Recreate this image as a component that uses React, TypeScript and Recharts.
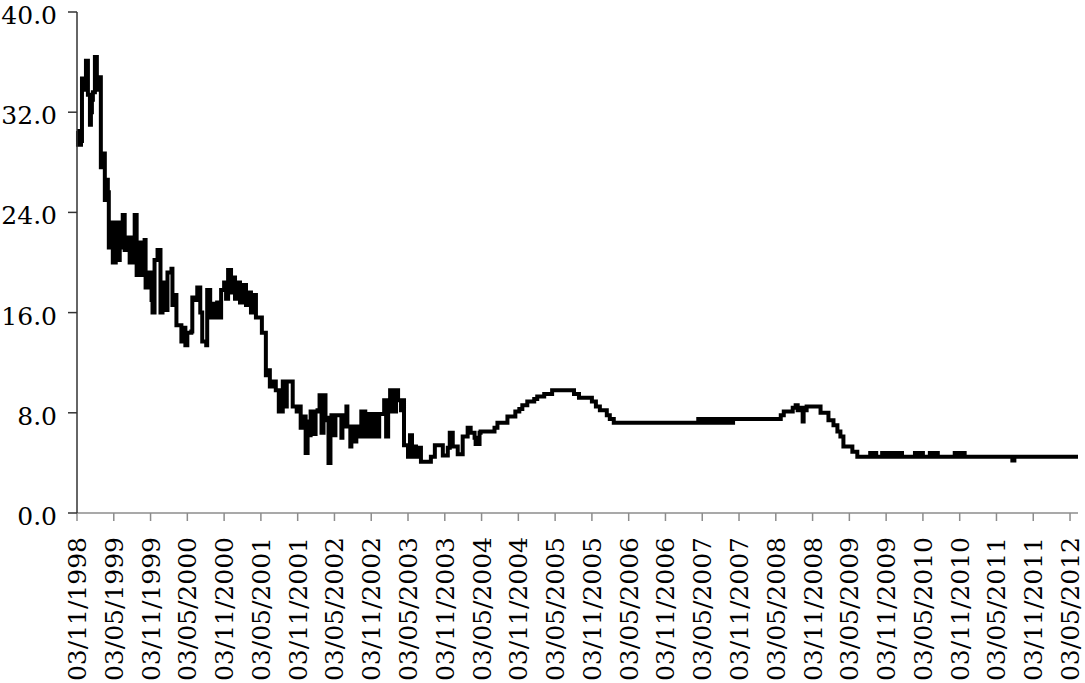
import { LineChart, Line, XAxis, YAxis } from "recharts";

// Rate changes: [months since 03/11/1998, level]
const rateSteps: [number, number][] = [
  [0, 30.5], [0.16, 29.4], [0.65, 29.7], [0.81, 34.7], [1.14, 33.8], [1.46, 36.1],
  [1.78, 33.4], [2.11, 31.0], [2.27, 32.0], [2.43, 33.0], [2.59, 33.6], [2.92, 36.4],
  [3.24, 33.8], [3.57, 34.8], [3.89, 27.6], [4.22, 28.7], [4.54, 25.0], [4.7, 26.6],
  [5.03, 25.6], [5.19, 21.2], [5.51, 23.2], [5.84, 20.0], [6.32, 23.2], [6.65, 20.2],
  [6.97, 23.2], [7.3, 21.2], [7.46, 23.8], [7.78, 21.0], [8.11, 22.0], [8.59, 20.0],
  [9.08, 22.0], [9.41, 23.8], [9.73, 19.0], [10.22, 21.6], [10.7, 19.0], [11.03, 21.8],
  [11.19, 18.0], [11.51, 19.2], [12.16, 17.0], [12.32, 16.0], [12.65, 20.2], [13.14, 21.0],
  [13.62, 16.0], [13.95, 18.4], [14.43, 16.2], [14.76, 19.2], [15.41, 19.5], [15.57, 16.6],
  [16.05, 17.4], [16.22, 15.0], [17.03, 13.7], [17.35, 14.8], [17.68, 13.4], [18.0, 14.4],
  [18.65, 14.5], [18.81, 17.2], [19.3, 17.0], [19.62, 18.0], [20.11, 16.0], [20.43, 13.7],
  [21.08, 13.4], [21.24, 17.8], [21.73, 15.6], [22.05, 16.7], [22.54, 15.6], [22.86, 16.8],
  [23.35, 15.6], [23.51, 17.8], [24.0, 18.4], [24.32, 17.1], [24.65, 19.4], [25.13, 17.6],
  [25.46, 18.8], [25.78, 17.1], [26.11, 18.4], [26.59, 16.8], [26.92, 18.2], [27.57, 16.6],
  [27.89, 17.6], [28.38, 16.0], [28.7, 17.4], [29.19, 15.6], [30.16, 14.4], [30.81, 11.0],
  [31.13, 11.4], [31.46, 10.1], [32.11, 10.5], [32.43, 9.8], [32.92, 8.1], [33.57, 10.5],
  [33.89, 8.5], [34.22, 10.5], [35.19, 8.5], [35.84, 8.1], [36.32, 8.5], [36.49, 6.8],
  [36.97, 7.7], [37.3, 4.8], [37.62, 7.3], [37.95, 6.2], [38.11, 8.1], [38.43, 6.3],
  [38.92, 8.1], [39.24, 8.2], [39.57, 9.4], [39.89, 6.4], [40.22, 9.4], [40.54, 7.6],
  [40.86, 7.4], [41.03, 4.0], [41.35, 6.6], [41.51, 7.8], [42.0, 6.2], [42.16, 7.8],
  [43.13, 6.0], [43.3, 7.8], [43.78, 6.9], [43.95, 8.5], [44.11, 6.9], [44.59, 5.3],
  [44.76, 6.9], [45.24, 5.7], [45.57, 6.9], [46.22, 6.1], [46.38, 8.1], [47.03, 6.1],
  [47.35, 7.9], [47.68, 6.1], [48.0, 7.9], [48.32, 6.1], [48.65, 7.9], [48.97, 6.1],
  [49.3, 7.9], [50.11, 9.0], [50.43, 6.1], [50.76, 9.0], [51.08, 9.8], [51.24, 8.1],
  [51.57, 9.8], [51.89, 8.1], [52.05, 9.8], [52.38, 9.0], [52.86, 8.2], [53.03, 9.0],
  [53.35, 5.4], [54.0, 4.5], [54.32, 6.2], [54.65, 4.5], [54.81, 5.3], [55.3, 4.5],
  [55.62, 5.2], [56.11, 4.1], [57.73, 4.5], [58.38, 5.4], [59.68, 4.6], [60.49, 5.2],
  [60.81, 6.4], [61.3, 5.3], [62.11, 4.7], [62.92, 6.1], [63.73, 6.8], [64.22, 6.4],
  [64.86, 6.0], [65.03, 5.5], [65.67, 6.4], [65.84, 6.5], [68.11, 6.8], [68.59, 7.2],
  [70.22, 7.7], [71.51, 8.1], [72.16, 8.3], [72.65, 8.6], [73.46, 8.9], [74.59, 9.1],
  [75.08, 9.3], [76.22, 9.5], [77.51, 9.8], [81.08, 9.5], [81.89, 9.2], [84.0, 8.9],
  [84.65, 8.5], [85.3, 8.2], [86.43, 7.8], [86.92, 7.5], [87.57, 7.2], [101.35, 7.5],
  [101.67, 7.2], [102.0, 7.5], [102.32, 7.2], [102.65, 7.5], [102.97, 7.2], [103.3, 7.5],
  [103.62, 7.2], [103.95, 7.5], [104.27, 7.2], [104.59, 7.5], [104.92, 7.2], [105.41, 7.5],
  [105.73, 7.2], [106.05, 7.5], [106.38, 7.2], [107.03, 7.5], [114.81, 7.8], [115.3, 8.1],
  [116.76, 8.4], [117.24, 8.6], [117.57, 8.2], [118.05, 8.4], [118.38, 7.3], [118.54, 8.2],
  [119.03, 8.5], [121.3, 8.0], [122.59, 7.4], [123.41, 7.0], [124.05, 6.5], [124.54, 6.1],
  [125.03, 5.3], [126.49, 4.9], [127.3, 4.5], [129.4, 4.8], [129.73, 4.5], [130.05, 4.8],
  [130.38, 4.5], [131.35, 4.8], [131.84, 4.5], [132.16, 4.8], [132.49, 4.5], [133.13, 4.8],
  [133.78, 4.5], [134.11, 4.8], [134.59, 4.5], [136.7, 4.8], [137.19, 4.5], [137.67, 4.8],
  [138.0, 4.5], [139.13, 4.8], [139.62, 4.5], [140.11, 4.8], [140.43, 4.5], [143.19, 4.8],
  [143.68, 4.5], [144.16, 4.8], [144.81, 4.5], [152.59, 4.2], [152.92, 4.5], [163.3, 4.5],
];

const xTickMonths = [
  0, 6, 12, 18, 24, 30, 36, 42, 48, 54, 60, 66, 72, 78,
  84, 90, 96, 102, 108, 114, 120, 126, 132, 138, 144, 150, 156, 162,
];
const xTickLabels = [
  "03/11/1998", "03/05/1999", "03/11/1999", "03/05/2000", "03/11/2000", "03/05/2001",
  "03/11/2001", "03/05/2002", "03/11/2002", "03/05/2003", "03/11/2003", "03/05/2004",
  "03/11/2004", "03/05/2005", "03/11/2005", "03/05/2006", "03/11/2006", "03/05/2007",
  "03/11/2007", "03/05/2008", "03/11/2008", "03/05/2009", "03/11/2009", "03/05/2010",
  "03/11/2010", "03/05/2011", "03/11/2011", "03/05/2012",
];
const yTicks = [0, 8, 16, 24, 32, 40];

const data = rateSteps.map(([m, v]) => ({ m, v }));

const FONT = "'DejaVu Serif', serif";

const XTick = ({ x, y, payload }: any) => {
  const i = xTickMonths.indexOf(payload.value);
  return (
    <text
      x={x}
      y={y}
      transform={`rotate(-90, ${x}, ${y})`}
      textAnchor="end"
      dy={9}
      fontSize={25}
      fontFamily={FONT}
      fill="#000"
    >
      {xTickLabels[i]}
    </text>
  );
};

const YTick = ({ x, y, payload }: any) => (
  <text x={x} y={y} textAnchor="end" dy={12} fontSize={25} fontFamily={FONT} fill="#000">
    {Number(payload.value).toFixed(1)}
  </text>
);

export default function App() {
  return (
    <div style={{ position: "absolute", left: 0, top: 0, background: "#fff" }}>
      <LineChart
        width={1085}
        height={683}
        data={data}
        margin={{ top: 12, right: 7, left: 0, bottom: 0 }}
      >
        <XAxis
          dataKey="m"
          type="number"
          domain={[0, 163.3]}
          ticks={xTickMonths}
          interval={0}
          height={170}
          tick={<XTick />}
          tickSize={8}
          tickMargin={16}
          stroke="#8c8c8c"
          strokeWidth={1.5}
        />
        <YAxis
          type="number"
          domain={[0, 40]}
          ticks={yTicks}
          interval={0}
          width={77}
          tick={<YTick />}
          tickSize={9}
          tickMargin={11}
          stroke="#333"
          strokeWidth={1.5}
        />
        <Line
          dataKey="v"
          type="stepAfter"
          stroke="#000"
          strokeWidth={4}
          dot={false}
          isAnimationActive={false}
        />
      </LineChart>
    </div>
  );
}
